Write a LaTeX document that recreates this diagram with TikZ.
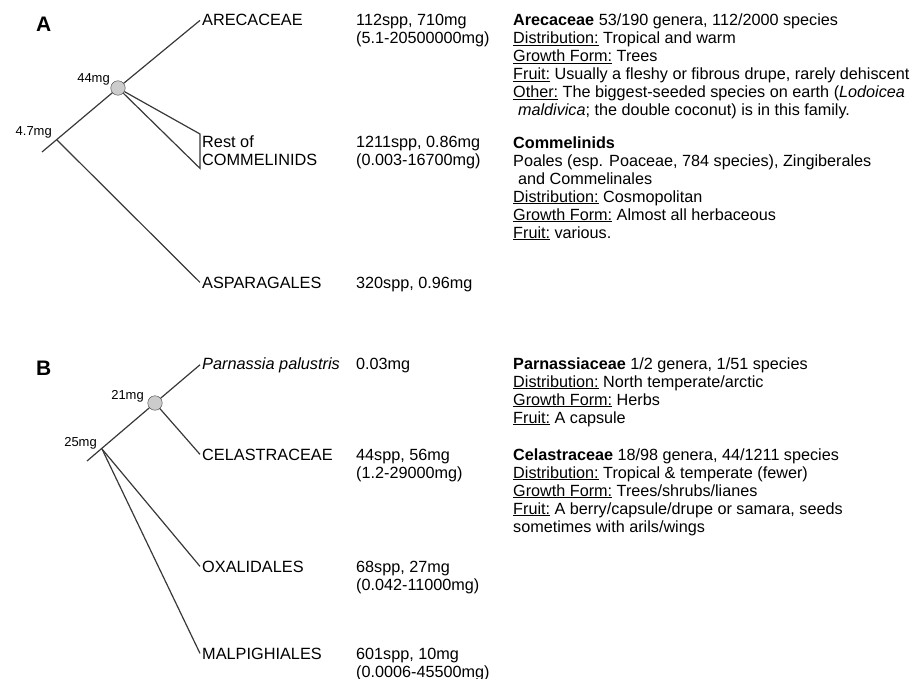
\documentclass[tikz,border=0pt]{standalone}
\usepackage{fontspec}
\setmainfont{Liberation Sans}
\tikzstyle{panel} = [font=\bfseries\fontsize{21}{21}\selectfont, anchor=base west, inner sep=0pt]
\tikzstyle{taxon} = [font=\fontsize{16.3}{18}\selectfont, anchor=base west, align=left, inner sep=2pt]
\tikzstyle{info} = [font=\fontsize{16.2}{18}\selectfont, anchor=base west, align=left, inner sep=0pt]
\tikzstyle{age} = [font=\fontsize{13}{13}\selectfont, anchor=base east, inner sep=1pt]
\tikzstyle{clade} = [circle, draw=black!75, fill=black!20, minimum size=14.5pt, inner sep=0pt]
\tikzstyle{branch} = [draw=black!78, line width=1.2pt]

\begin{document}
\begin{tikzpicture}[x=1pt, y=-1pt]
    \useasboundingbox (0,0) rectangle (920,679);
    % panel A (multi-line texts sit on their last baseline)
    \node[panel] (pA) at (36,32) {A};
    \node[clade] (cA) at (118,88) {};
    \coordinate (rA) at (42,152);
    \coordinate (bA) at (57,140);
    \node[taxon] (are) at (200,26) {ARECACEAE};
    \node[taxon] (rest) at (200,166) {Rest of\\COMMELINIDS};
    \node[taxon] (asp) at (200,288) {ASPARAGALES};
    \draw[branch] (rA) -- (cA);
    \draw[branch] (cA) -- (are.west);
    \draw[branch] (cA) -- (rest.north west) -- (rest.south west) -- (cA);
    \draw[branch] (bA) -- (asp.west);
    \node[age] (mA1) at (53,136) {4.7mg};
    \node[age] (mA2) at (111,83) {44mg};
    \node[info] (sA1) at (356,44) {112spp, 710mg\\(5.1-20500000mg)};
    \node[info] (sA2) at (356,166) {1211spp, 0.86mg\\(0.003-16700mg)};
    \node[info] (sA3) at (356,288) {320spp, 0.96mg};
    \node[info] (nA1) at (513,116) {\textbf{Arecaceae} 53/190 genera, 112/2000 species\\
        \underline{Distribution:} Tropical and warm\\
        \underline{Growth Form:} Trees\\
        \underline{Fruit:} Usually a fleshy or fibrous drupe, rarely dehiscent\\
        \underline{Other:} The biggest-seeded species on earth (\textit{Lodoicea}\\
        \hspace*{0.3em}\textit{maldivica}; the double coconut) is in this family.};
    \node[info] (nA2) at (513,238) {\textbf{Commelinids}\\
        Poales (esp. Poaceae, 784 species), Zingiberales\\
        \hspace*{0.3em}and Commelinales\\
        \underline{Distribution:} Cosmopolitan\\
        \underline{Growth Form:} Almost all herbaceous\\
        \underline{Fruit:} various.};
    % panel B
    \node[panel] (pB) at (36,375) {B};
    \node[clade] (cB) at (155,403) {};
    \coordinate (rB) at (87,461);
    \coordinate (bB) at (102,449);
    \node[taxon] (par) at (200,369) {\textit{Parnassia palustris}};
    \node[taxon] (cel) at (200,460) {CELASTRACEAE};
    \node[taxon] (oxa) at (200,572) {OXALIDALES};
    \node[taxon] (mal) at (200,659) {MALPIGHIALES};
    \draw[branch] (rB) -- (cB);
    \draw[branch] (cB) -- (par.west);
    \draw[branch] (cB) -- (cel.west);
    \draw[branch] (bB) -- (oxa.west);
    \draw[branch] (bB) -- (mal.west);
    \node[age] (mB1) at (98,446) {25mg};
    \node[age] (mB2) at (145,399) {21mg};
    \node[info] (sB1) at (356,369) {0.03mg};
    \node[info] (sB2) at (356,478) {44spp, 56mg\\(1.2-29000mg)};
    \node[info] (sB3) at (356,590) {68spp, 27mg\\(0.042-11000mg)};
    \node[info] (sB4) at (356,677) {601spp, 10mg\\(0.0006-45500mg)};
    \node[info] (nB1) at (513,423) {\textbf{Parnassiaceae} 1/2 genera, 1/51 species\\
        \underline{Distribution:} North temperate/arctic\\
        \underline{Growth Form:} Herbs\\
        \underline{Fruit:} A capsule};
    \node[info] (nB2) at (513,532) {\textbf{Celastraceae} 18/98 genera, 44/1211 species\\
        \underline{Distribution:} Tropical \& temperate (fewer)\\
        \underline{Growth Form:} Trees/shrubs/lianes\\
        \underline{Fruit:} A berry/capsule/drupe or samara, seeds\\
        sometimes with arils/wings};
\end{tikzpicture}
\end{document}
